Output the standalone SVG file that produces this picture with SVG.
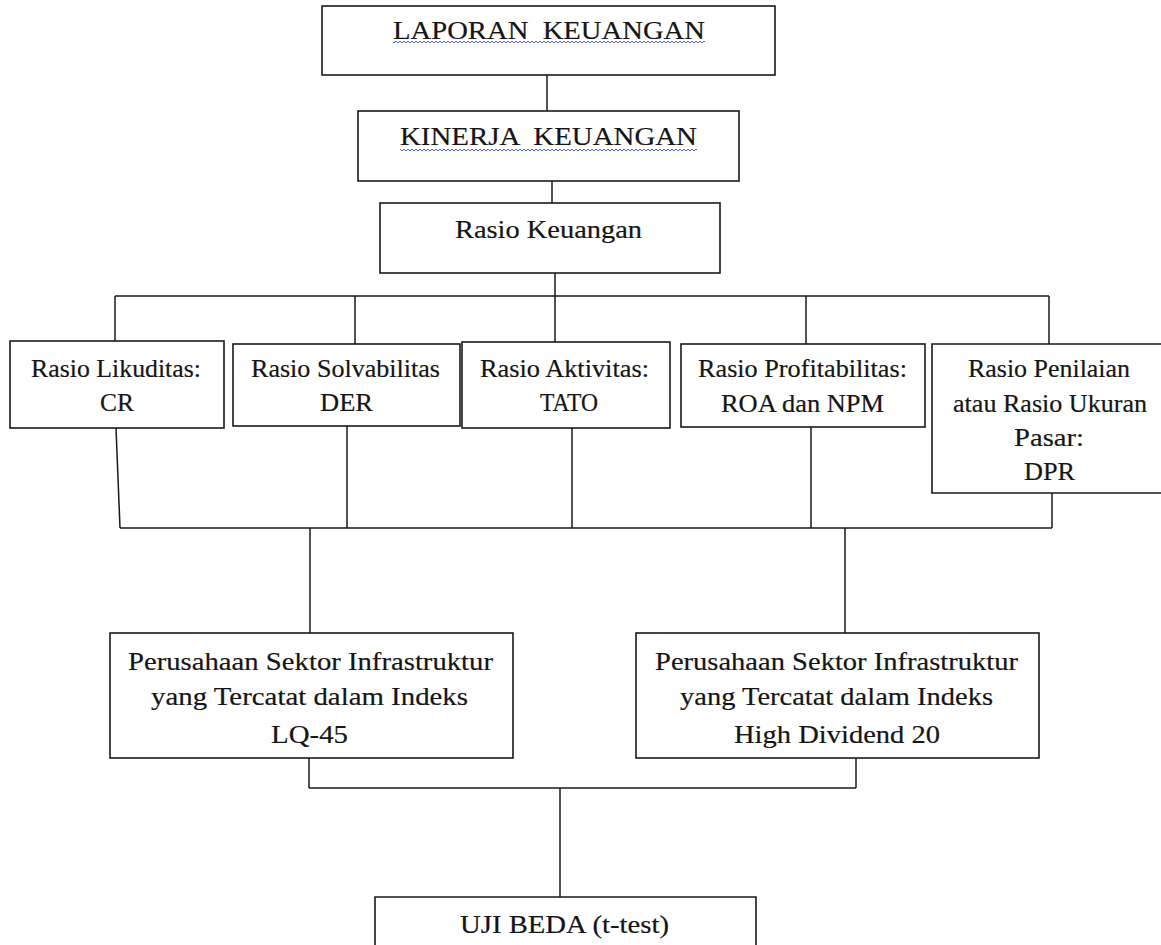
<svg xmlns="http://www.w3.org/2000/svg" width="1161" height="945" viewBox="0 0 1161 945">
<style>
.box{fill:#fff;stroke:#1a1a1a;stroke-width:1.6}
.ln{stroke:#1a1a1a;stroke-width:1.5;fill:none}
.t{font-family:'Liberation Serif','Times New Roman',serif;font-size:26px;fill:#151515;stroke:#151515;stroke-width:0.2;text-anchor:middle}
</style>
<defs>
<pattern id="wave" patternUnits="userSpaceOnUse" x="0" y="0" width="4" height="4">
<path d="M0,1 L2,3 L4,1" stroke="#3c4ff0" stroke-width="0.9" fill="none"/>
</pattern>
</defs>
<rect width="1161" height="945" fill="#fff"/>
<g id="connectors">
<path class="ln" d="M547,75 V111"/>
<path class="ln" d="M552,181 V203"/>
<path class="ln" d="M555,273 V342"/>
<path class="ln" d="M115,296 H1049"/>
<path class="ln" d="M115,296 V341"/>
<path class="ln" d="M355,296 V344"/>
<path class="ln" d="M806,296 V344"/>
<path class="ln" d="M1049,296 V344"/>
<path class="ln" d="M116,428 L120,528"/>
<path class="ln" d="M347,426 V528"/>
<path class="ln" d="M572,428 V528"/>
<path class="ln" d="M811,427 V528"/>
<path class="ln" d="M1052,493 V528"/>
<path class="ln" d="M120,528 H1052"/>
<path class="ln" d="M310,528 V633"/>
<path class="ln" d="M845,528 V633"/>
<path class="ln" d="M309,758 V788"/>
<path class="ln" d="M856,758 V788"/>
<path class="ln" d="M309,788 H856"/>
<path class="ln" d="M560,788 V897"/>
</g>
<g id="laporan">
<rect class="box" x="322" y="6" width="453" height="69"/>
<text class="t" transform="matrix(1.1 0 0 1 549 39)" x="0" y="0" textLength="283.6" lengthAdjust="spacingAndGlyphs" xml:space="preserve">LAPORAN  KEUANGAN</text>
<rect x="393" y="41" width="312" height="4" fill="url(#wave)"/>
</g>
<g id="kinerja">
<rect class="box" x="358" y="111" width="381" height="70"/>
<text class="t" transform="matrix(1.1 0 0 1 548.5 145)" x="0" y="0" textLength="270" lengthAdjust="spacingAndGlyphs" xml:space="preserve">KINERJA  KEUANGAN</text>
<rect x="400" y="147" width="297" height="4" fill="url(#wave)"/>
</g>
<g id="rasio-keuangan">
<rect class="box" x="380" y="203" width="340" height="70"/>
<text class="t" transform="matrix(1.1 0 0 1 548.5 238)" x="0" y="0" textLength="170" lengthAdjust="spacingAndGlyphs">Rasio Keuangan</text>
</g>
<g id="likuditas">
<rect class="box" x="10" y="341" width="214" height="87"/>
<text class="t" transform="matrix(1.1 0 0 1 116 377)" x="0" y="0" textLength="154.5" lengthAdjust="spacingAndGlyphs">Rasio Likuditas:</text>
<text class="t" transform="matrix(1.1 0 0 1 117 411)" x="0" y="0" textLength="30.9" lengthAdjust="spacingAndGlyphs">CR</text>
</g>
<g id="solvabilitas">
<rect class="box" x="233" y="344" width="227" height="82"/>
<text class="t" transform="matrix(1.1 0 0 1 345.5 377)" x="0" y="0" textLength="171.8" lengthAdjust="spacingAndGlyphs">Rasio Solvabilitas</text>
<text class="t" transform="matrix(1.1 0 0 1 346.5 411)" x="0" y="0" textLength="48.2" lengthAdjust="spacingAndGlyphs">DER</text>
</g>
<g id="aktivitas">
<rect class="box" x="462" y="342" width="208" height="86"/>
<text class="t" transform="matrix(1.1 0 0 1 564.5 377)" x="0" y="0" textLength="153.6" lengthAdjust="spacingAndGlyphs">Rasio Aktivitas:</text>
<text class="t" transform="matrix(1.1 0 0 1 569 411)" x="0" y="0" textLength="52.7" lengthAdjust="spacingAndGlyphs">TATO</text>
</g>
<g id="profitabilitas">
<rect class="box" x="681" y="344" width="244" height="83"/>
<text class="t" transform="matrix(1.1 0 0 1 802.5 377)" x="0" y="0" textLength="190" lengthAdjust="spacingAndGlyphs">Rasio Profitabilitas:</text>
<text class="t" transform="matrix(1.1 0 0 1 802.5 412)" x="0" y="0" textLength="148.2" lengthAdjust="spacingAndGlyphs">ROA dan NPM</text>
</g>
<g id="penilaian">
<path class="box" d="M1161,344 H932 V493 H1161"/>
<text class="t" transform="matrix(1.1 0 0 1 1049 377)" x="0" y="0" textLength="147.3" lengthAdjust="spacingAndGlyphs">Rasio Penilaian</text>
<text class="t" transform="matrix(1.1 0 0 1 1050 412)" x="0" y="0" textLength="176.4" lengthAdjust="spacingAndGlyphs">atau Rasio Ukuran</text>
<text class="t" transform="matrix(1.1 0 0 1 1049 446)" x="0" y="0" textLength="63.6" lengthAdjust="spacingAndGlyphs">Pasar:</text>
<text class="t" transform="matrix(1.1 0 0 1 1049.5 480)" x="0" y="0" textLength="46.4" lengthAdjust="spacingAndGlyphs">DPR</text>
</g>
<g id="lq45">
<rect class="box" x="110" y="633" width="403" height="125"/>
<text class="t" transform="matrix(1.1 0 0 1 310.5 670)" x="0" y="0" textLength="331.8" lengthAdjust="spacingAndGlyphs">Perusahaan Sektor Infrastruktur</text>
<text class="t" transform="matrix(1.1 0 0 1 309.5 705)" x="0" y="0" textLength="288.2" lengthAdjust="spacingAndGlyphs">yang Tercatat dalam Indeks</text>
<text class="t" transform="matrix(1.1 0 0 1 309.5 743)" x="0" y="0" textLength="70" lengthAdjust="spacingAndGlyphs">LQ-45</text>
</g>
<g id="highdividend">
<rect class="box" x="636" y="633" width="403" height="125"/>
<text class="t" transform="matrix(1.1 0 0 1 836.5 670)" x="0" y="0" textLength="330" lengthAdjust="spacingAndGlyphs">Perusahaan Sektor Infrastruktur</text>
<text class="t" transform="matrix(1.1 0 0 1 836.5 705)" x="0" y="0" textLength="284.5" lengthAdjust="spacingAndGlyphs">yang Tercatat dalam Indeks</text>
<text class="t" transform="matrix(1.1 0 0 1 837 743)" x="0" y="0" textLength="187.3" lengthAdjust="spacingAndGlyphs">High Dividend 20</text>
</g>
<g id="ujibeda">
<path class="box" d="M375,945 V897 H756 V945"/>
<text class="t" transform="matrix(1.1 0 0 1 564.5 933)" x="0" y="0" textLength="190" lengthAdjust="spacingAndGlyphs">UJI BEDA (t-test)</text>
</g>
</svg>
